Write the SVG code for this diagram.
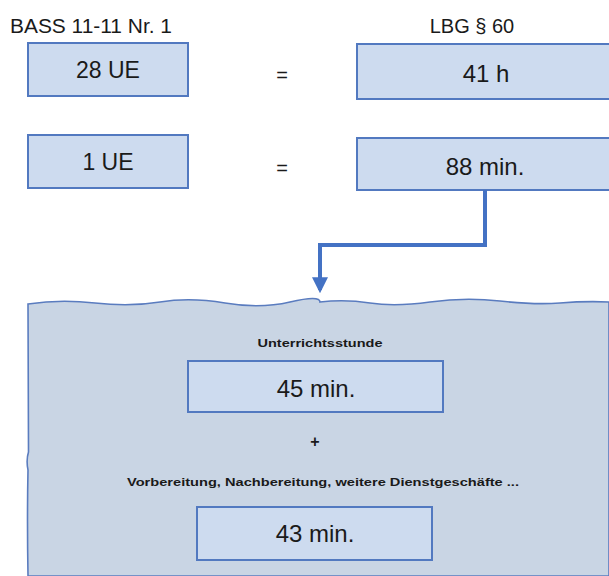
<svg xmlns="http://www.w3.org/2000/svg" width="609" height="576" viewBox="0 0 609 576">
<style>
.box{fill:#cddbef;stroke:#5279c0;stroke-width:2}
.big{font-family:"Liberation Sans",Arial,sans-serif;font-size:24px;fill:#1a1a1a;text-anchor:middle}
.hdr{font-family:"Liberation Sans",Arial,sans-serif;font-size:20px;fill:#1a1a1a;text-anchor:middle}
.small{font-family:"Liberation Sans",Arial,sans-serif;font-size:11.5px;font-weight:bold;fill:#1a1a1a;text-anchor:middle}
.conn{fill:none;stroke:#4472c4;stroke-width:4}
</style>
<defs>
<marker id="ah" markerWidth="4" markerHeight="4" refX="3.2" refY="2" orient="auto" markerUnits="strokeWidth">
<path d="M0,0 L4,2 L0,4 z" fill="#4472c4"/>
</marker>
</defs>
<rect width="609" height="576" fill="#ffffff"/>
<g id="panel">
<path d="M28,304 Q60,299 95,303 T160,302 T225,303 T290,302 T320,302 Q345,299 370,303 T430,302 T500,301 T560,303 T609,302 L609,576 L28,576 Q27,520 28,470 Q26,460 28.5,452 Q28,380 28,304 z" fill="#c9d5e4" stroke="#5a7cbf" stroke-width="1.6"/>
<rect x="609" y="300" width="2" height="276" fill="#c9d5e4"/>
</g>
<g id="label-bass"><text class="hdr" x="91" y="33" textLength="162" lengthAdjust="spacingAndGlyphs">BASS 11-11 Nr. 1</text></g>
<g id="label-lbg"><text class="hdr" x="472" y="33">LBG § 60</text></g>
<g id="n-28ue"><rect class="box" x="28" y="43" width="160" height="53"/><text class="big" x="108" y="78" style="font-size:23px">28 UE</text></g>
<g id="eq1"><text class="hdr" x="282" y="82">=</text></g>
<g id="n-41h"><rect class="box" x="357" y="44" width="260" height="55"/><text class="big" x="486" y="82">41 h</text></g>
<g id="n-1ue"><rect class="box" x="28" y="135" width="160" height="53"/><text class="big" x="108" y="170" style="font-size:23px">1 UE</text></g>
<g id="eq2"><text class="hdr" x="282" y="175">=</text></g>
<g id="n-88"><rect class="box" x="357" y="138" width="260" height="52"/><text class="big" x="485" y="175">88 min.</text></g>
<g id="connectors">
<path class="conn" d="M485,190 V245 H320 V290" marker-end="url(#ah)"/>
</g>
<g id="label-unterricht"><text class="small" x="320" y="347" textLength="125" lengthAdjust="spacingAndGlyphs">Unterrichtsstunde</text></g>
<g id="n-45"><rect class="box" x="188" y="361" width="255" height="51"/><text class="big" x="316" y="397">45 min.</text></g>
<g id="plus"><text class="hdr" x="315" y="447" style="font-weight:bold;font-size:16px">+</text></g>
<g id="label-vor"><text class="small" x="323" y="486" textLength="392" lengthAdjust="spacingAndGlyphs">Vorbereitung, Nachbereitung, weitere Dienstgeschäfte ...</text></g>
<g id="n-43"><rect class="box" x="197" y="507" width="235" height="53"/><text class="big" x="315" y="542">43 min.</text></g>
</svg>
